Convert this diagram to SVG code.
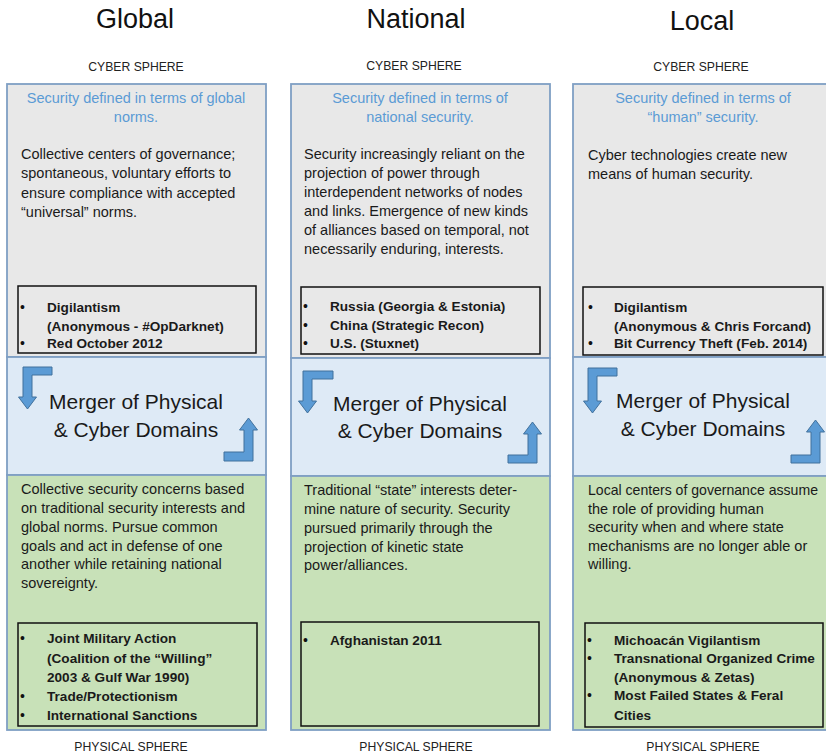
<svg xmlns="http://www.w3.org/2000/svg" width="826" height="754" viewBox="0 0 826 754">
<style>
text{font-family:"Liberation Sans",Arial,sans-serif}
.title{font-size:27px;fill:#111;text-anchor:middle}
.sphere{font-size:12.2px;fill:#222;text-anchor:middle}
.blue{font-size:14.5px;fill:#5b9bd5;text-anchor:middle}
.body{font-size:14.5px;fill:#1a1a1a}
.bold{font-size:13.6px;font-weight:bold;fill:#1a1a1a}
.dot{font-size:14px;fill:#111}
.merger{font-size:21px;fill:#1a1a1a;text-anchor:middle}
.cyber{fill:#e8e8e8;stroke:#7f9fc4;stroke-width:1.8}
.merge{fill:#deeaf6;stroke:#7f9fc4;stroke-width:1.8}
.phys{fill:#c8e1b8;stroke:#7f9fc4;stroke-width:1.8}
.list{fill:none;stroke:#111;stroke-width:1.5}
.arrow{fill:#5b9bd5;stroke:#41719c;stroke-width:1}
</style>
<rect width="826" height="754" fill="#fff"/>

<g id="headers">
<text class="title" x="135" y="28">Global</text>
<text class="title" x="416" y="28">National</text>
<text class="title" x="702" y="30">Local</text>
<text class="sphere" x="136" y="71">CYBER SPHERE</text>
<text class="sphere" x="414" y="70">CYBER SPHERE</text>
<text class="sphere" x="701" y="71">CYBER SPHERE</text>
<text class="sphere" x="131" y="751">PHYSICAL SPHERE</text>
<text class="sphere" x="416" y="751">PHYSICAL SPHERE</text>
<text class="sphere" x="703" y="751">PHYSICAL SPHERE</text>
</g>

<!-- Global column -->
<g id="global-cyber">
<rect class="cyber" x="7" y="84" width="259" height="273"/>
<text class="blue" x="136" y="103">Security defined in terms of global</text>
<text class="blue" x="136" y="122">norms.</text>
<text class="body" x="21" y="159">Collective centers of governance;</text>
<text class="body" x="21" y="178">spontaneous, voluntary efforts to</text>
<text class="body" x="21" y="197.5">ensure compliance with accepted</text>
<text class="body" x="21" y="216.5">“universal” norms.</text>
<rect class="list" x="18" y="286" width="238" height="67"/>
<text class="dot" x="20" y="312">•</text>
<text class="dot" x="20" y="348">•</text>
<text class="bold" x="47" y="312">Digilantism</text>
<text class="bold" x="47" y="331">(Anonymous - #OpDarknet)</text>
<text class="bold" x="47" y="348">Red October 2012</text>
</g>
<g id="global-merger">
<rect class="merge" x="7" y="357" width="259" height="118"/>
<text class="merger" x="136" y="409">Merger of Physical</text>
<text class="merger" x="136" y="437">&amp; Cyber Domains</text>
</g>
<g id="global-physical">
<rect class="phys" x="7" y="475" width="259" height="255"/>
<text class="body" x="21" y="494">Collective security concerns based</text>
<text class="body" x="21" y="513">on traditional security interests and</text>
<text class="body" x="21" y="532">global norms. Pursue common</text>
<text class="body" x="21" y="550.5">goals and act in defense of one</text>
<text class="body" x="21" y="569">another while retaining national</text>
<text class="body" x="21" y="588">sovereignty.</text>
<rect class="list" x="18" y="623" width="239" height="103"/>
<text class="dot" x="20" y="643">•</text>
<text class="dot" x="20" y="701">•</text>
<text class="dot" x="20" y="720">•</text>
<text class="bold" x="47" y="643">Joint Military Action</text>
<text class="bold" x="47" y="663">(Coalition of the “Willing”</text>
<text class="bold" x="47" y="682">2003 &amp; Gulf War 1990)</text>
<text class="bold" x="47" y="701">Trade/Protectionism</text>
<text class="bold" x="47" y="720">International Sanctions</text>
</g>

<!-- National column -->
<g id="national-cyber">
<rect class="cyber" x="291" y="84" width="259" height="274"/>
<text class="blue" x="420" y="103">Security defined in terms of</text>
<text class="blue" x="420" y="121.5">national security.</text>
<text class="body" x="304" y="159">Security increasingly reliant on the</text>
<text class="body" x="304" y="178">projection of power through</text>
<text class="body" x="304" y="197">interdependent networks of nodes</text>
<text class="body" x="304" y="216">and links. Emergence of new kinds</text>
<text class="body" x="304" y="235">of alliances based on temporal, not</text>
<text class="body" x="304" y="254">necessarily enduring, interests.</text>
<rect class="list" x="301" y="287" width="239" height="67"/>
<text class="dot" x="303" y="311">•</text>
<text class="dot" x="303" y="330">•</text>
<text class="dot" x="303" y="348">•</text>
<text class="bold" x="330" y="311">Russia (Georgia &amp; Estonia)</text>
<text class="bold" x="330" y="330">China (Strategic Recon)</text>
<text class="bold" x="330" y="348">U.S. (Stuxnet)</text>
</g>
<g id="national-merger">
<rect class="merge" x="291" y="358" width="259" height="118"/>
<text class="merger" x="420" y="411">Merger of Physical</text>
<text class="merger" x="420" y="438">&amp; Cyber Domains</text>
</g>
<g id="national-physical">
<rect class="phys" x="291" y="476" width="259" height="254"/>
<text class="body" x="304" y="495">Traditional “state” interests deter-</text>
<text class="body" x="304" y="514">mine nature of security. Security</text>
<text class="body" x="304" y="533">pursued primarily through the</text>
<text class="body" x="304" y="551.5">projection of kinetic state</text>
<text class="body" x="304" y="570">power/alliances.</text>
<rect class="list" x="301" y="622" width="238" height="104"/>
<text class="dot" x="303" y="645">•</text>
<text class="bold" x="330" y="645">Afghanistan 2011</text>
</g>

<!-- Local column -->
<g id="local-cyber">
<rect class="cyber" x="573" y="84" width="259" height="273"/>
<text class="blue" x="703" y="103">Security defined in terms of</text>
<text class="blue" x="703" y="122">“human” security.</text>
<text class="body" x="588" y="160">Cyber technologies create new</text>
<text class="body" x="588" y="179">means of human security.</text>
<rect class="list" x="583" y="287" width="240" height="68"/>
<text class="dot" x="588" y="312">•</text>
<text class="dot" x="588" y="348">•</text>
<text class="bold" x="614" y="312">Digilantism</text>
<text class="bold" x="614" y="331">(Anonymous &amp; Chris Forcand)</text>
<text class="bold" x="614" y="348">Bit Currency Theft (Feb. 2014)</text>
</g>
<g id="local-merger">
<rect class="merge" x="573" y="357" width="259" height="119"/>
<text class="merger" x="703" y="408">Merger of Physical</text>
<text class="merger" x="703" y="436">&amp; Cyber Domains</text>
</g>
<g id="local-physical">
<rect class="phys" x="573" y="476" width="259" height="254"/>
<text class="body" x="588" y="495" textLength="230" lengthAdjust="spacingAndGlyphs">Local centers of governance assume</text>
<text class="body" x="588" y="513.5">the role of providing human</text>
<text class="body" x="588" y="532">security when and where state</text>
<text class="body" x="588" y="550.5">mechanisms are no longer able or</text>
<text class="body" x="588" y="569">willing.</text>
<rect class="list" x="585" y="623" width="238" height="104"/>
<text class="dot" x="587" y="645">•</text>
<text class="dot" x="587" y="663">•</text>
<text class="dot" x="587" y="700">•</text>
<text class="bold" x="614" y="645">Michoacán Vigilantism</text>
<text class="bold" x="614" y="663">Transnational Organized Crime</text>
<text class="bold" x="614" y="682">(Anonymous &amp; Zetas)</text>
<text class="bold" x="614" y="700">Most Failed States &amp; Feral</text>
<text class="bold" x="614" y="720">Cities</text>
</g>

<g id="connectors">
<path class="arrow" d="M52,367 L23,367 L23,397 L18.5,397 L27.5,409 L36.5,397 L32,397 L32,375 L52,375 Z"/>
<path class="arrow" d="M224,452 L244,452 L244,430 L239.5,430 L248.5,418 L257.5,430 L253,430 L253,461 L224,461 Z"/>
<path class="arrow" d="M333,371 L303,371 L303,401 L298.5,401 L307.5,413 L316.5,401 L312,401 L312,379 L333,379 Z"/>
<path class="arrow" d="M508,455 L528,455 L528,434 L523.5,434 L532.5,422 L541.5,434 L537,434 L537,463 L508,463 Z"/>
<path class="arrow" d="M617,368 L588,368 L588,401 L583.5,401 L592.5,413 L601.5,401 L597,401 L597,376 L617,376 Z"/>
<path class="arrow" d="M791,455 L811,455 L811,432 L806.5,432 L815.5,420 L824.5,432 L820,432 L820,463 L791,463 Z"/>
</g>
</svg>
